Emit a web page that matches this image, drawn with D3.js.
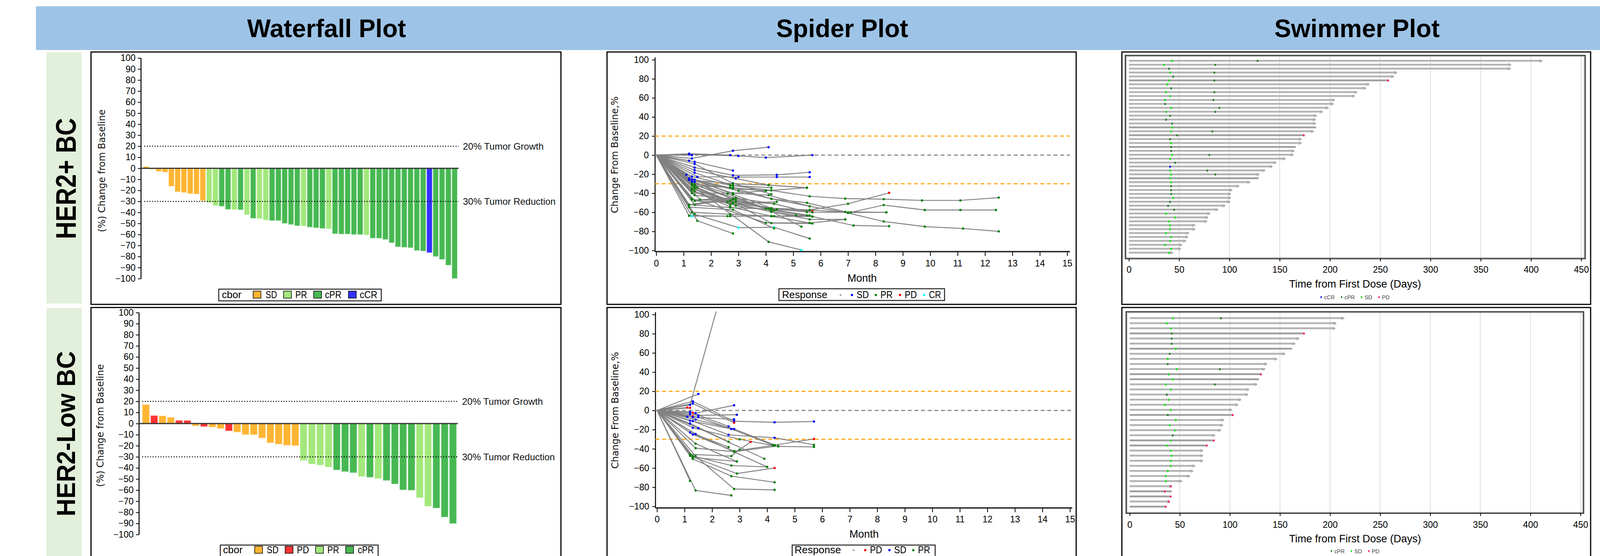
<!DOCTYPE html>
<html><head><meta charset="utf-8">
<script src="https://cdn.jsdelivr.net/npm/d3@7"></script>
<style>body{margin:0;background:#fff}svg{display:block}</style>
</head><body><svg id="c" width="4131" height="1423"></svg>
<script>
// ---------------- DATA ----------------
const panelTitles = ["Waterfall Plot", "Spider Plot", "Swimmer Plot"];
const rowLabels = ["HER2+  BC", "HER2-Low  BC"];
const wfTicks = [100,90,80,70,60,50,40,30,20,10,0,-10,-20,-30,-40,-50,-60,-70,-80,-90,-100];
const spiderYTicks = [100,80,60,40,20,0,-20,-40,-60,-80,-100];
const spiderXTicks = [0,1,2,3,4,5,6,7,8,9,10,11,12,13,14,15];
const swimTicks = [0,50,100,150,200,250,300,350,400,450];
const refLabels = ["20% Tumor Growth", "30% Tumor Reduction"];

// Waterfall HER2+
const wfTopValues = [1.5,-0.8,-2.7,-3.5,-16.2,-21.2,-21.9,-22.9,-23.2,-29.2,-31,-33.8,-34.4,-37.2,-37.5,-37.6,-42.1,-45.3,-45.6,-46.9,-47.4,-47.4,-49.9,-50.9,-52.1,-52.2,-53.3,-53.9,-54.5,-54.8,-59.3,-59.6,-59.6,-60,-60,-60.5,-63.3,-63.4,-64.5,-67.5,-71.2,-71.6,-72,-74.5,-75,-76.4,-79.9,-82.6,-87.8,-99.8];
const wfTopResp = ["SD","SD","SD","SD","SD","SD","SD","SD","SD","SD","PR","PR","cPR","cPR","PR","cPR","PR","cPR","PR","PR","cPR","cPR","cPR","cPR","cPR","PR","cPR","cPR","cPR","PR","cPR","cPR","cPR","cPR","cPR","PR","cPR","cPR","cPR","cPR","cPR","cPR","cPR","cPR","cPR","cCR","cPR","cPR","cPR","cPR"];
const wfTopLegend = ["SD","PR","cPR","cCR"];
// Waterfall HER2-low
const wfLowValues = [17,7.1,6.9,5.5,2.8,2.7,-2.1,-2.7,-3.1,-4.4,-6.6,-7.7,-9.9,-10,-13,-17.3,-18.5,-19.5,-19.9,-33.2,-36.5,-37.4,-39.1,-41.8,-43.3,-44.3,-47.7,-48.4,-49.6,-51.3,-54.4,-59.8,-60.1,-66.8,-74.5,-76.1,-84.2,-90.1];
const wfLowResp = ["SD","PD","SD","SD","PD","PD","SD","PD","SD","SD","PD","SD","SD","SD","SD","SD","SD","SD","SD","PR","PR","PR","PR","cPR","cPR","cPR","PR","cPR","PR","cPR","cPR","cPR","cPR","PR","PR","cPR","cPR","cPR"];
const wfLowLegend = ["SD","PD","PR","cPR"];

// Spider: each patient = list of [month, % change, response] (S=SD, P=PR, D=PD, C=CR)
const spiderTop = [
 [[0,0],[1.3,-3.5,'S'],[2.8,4.6,'S'],[4.1,8.3,'S']],
 [[0,0],[1.2,1.5,'S'],[2.7,0,'S']],
 [[0,0],[1.2,0.8,'S'],[3.0,-0.8,'S'],[4.0,-2.6,'S'],[5.7,0,'S']],
 [[0,0],[1.3,0,'S']],
 [[0,0],[1.2,-5.8,'S']],
 [[0,0],[1.4,-7,'S'],[2.8,-16.2,'S']],
 [[0,0],[1.4,-9.2,'S'],[2.8,-29.6,'S'],[4.2,-41,'P']],
 [[0,0],[1.4,-13,'S'],[2.8,-21.2,'S'],[4.4,-20.7,'S'],[5.6,-18,'S']],
 [[0,0],[1.5,-22.7,'S'],[3.0,-23,'S'],[4.4,-23,'S'],[5.6,-23,'S']],
 [[0,0],[1.4,-15.8,'S'],[2.9,-24.5,'S'],[4.1,-31.5,'P'],[5.5,-34.2,'P']],
 [[0,0],[1.4,-18.5,'S'],[2.8,-32,'P'],[4.2,-37,'P'],[5.6,-43.2,'P'],[6.9,-45.6,'P'],[8.3,-46.2,'P'],[9.7,-47.5,'P'],[11.1,-47.5,'P'],[12.5,-44.6,'P']],
 [[0,0],[1.1,-20.7,'S']],
 [[0,0],[1.3,-22.4,'S'],[2.7,-31.7,'P'],[4.2,-34.2,'P']],
 [[0,0],[1.2,-24.3,'S'],[2.8,-35,'P'],[4.0,-37.4,'P']],
 [[0,0],[1.2,-25.4,'S'],[3.0,-37.4,'P'],[4.2,-45.8,'P'],[5.5,-50,'P'],[6.9,-59.5,'P'],[8.4,-60,'P']],
 [[0,0],[1.3,-25.7,'S'],[2.8,-40,'P'],[4.1,-42,'P'],[5.6,-53.7,'P'],[7.0,-60.7,'P'],[8.3,-69.6,'P'],[9.8,-75,'P'],[11.2,-77,'P'],[12.5,-80,'P']],
 [[0,0],[1.4,-25.7,'S'],[2.8,-41,'P'],[4.2,-55.6,'P'],[5.7,-58.8,'D']],
 [[0,0],[1.3,-28,'S'],[2.6,-40.5,'P'],[4.0,-56,'P'],[5.6,-57.5,'P'],[7.0,-51,'P'],[8.5,-39.6,'D']],
 [[0,0],[1.4,-28,'S'],[2.8,-46.5,'P'],[4.1,-56.3,'P'],[5.7,-60,'P'],[7.1,-60,'P'],[8.3,-52.4,'P'],[9.8,-57.6,'P'],[11.1,-57.6,'P'],[12.4,-57.6,'P']],
 [[0,0],[1.3,-30,'P'],[2.9,-45.4,'P'],[4.2,-57,'P'],[5.6,-63.3,'P']],
 [[0,0],[1.4,-31,'P'],[2.9,-47,'P'],[4.2,-58,'P'],[5.7,-64.4,'P'],[7.2,-73.8,'P'],[8.5,-74.6,'P']],
 [[0,0],[1.3,-32,'P'],[2.6,-49,'P'],[4.2,-59.5,'P'],[5.6,-67.4,'P'],[6.9,-67.4,'P']],
 [[0,0],[1.4,-33,'P'],[2.7,-48,'P'],[4.3,-51,'P'],[5.5,-59.5,'P']],
 [[0,0],[1.5,-34,'P'],[2.8,-50,'P'],[4.2,-56,'P']],
 [[0,0],[1.3,-35,'P'],[2.8,-50.7,'P'],[4.4,-49,'P']],
 [[0,0],[1.4,-35,'P'],[2.9,-53,'P']],
 [[0,0],[1.3,-37,'P'],[2.7,-54.3,'P'],[4.2,-64,'P'],[5.6,-71.2,'P']],
 [[0,0],[1.4,-34,'P'],[4.1,-91,'P'],[5.3,-99.5,'C']],
 [[0,0],[1.5,-68.9,'P'],[2.8,-82.2,'P']],
 [[0,0],[1.3,-64,'C'],[2.7,-64,'P'],[4.3,-64,'P']],
 [[0,0],[1.4,-62,'P'],[3.0,-76,'C'],[4.3,-75.7,'C'],[5.6,-87.5,'P']],
 [[0,0],[1.2,-63.6,'P'],[2.6,-64,'P'],[4.2,-64,'P'],[5.7,-64.4,'P']],
 [[0,0],[1.3,-60,'P'],[2.7,-62,'P'],[4.2,-64,'P'],[5.5,-63.3,'P']],
 [[0,0],[1.2,-54.6,'P'],[2.8,-57.3,'P'],[4.3,-76.8,'P']],
 [[0,0],[1.2,-52,'P'],[2.9,-45,'P'],[4.3,-51,'P'],[5.5,-59.5,'P']],
 [[0,0],[1.4,-52,'P'],[2.8,-46.5,'P']],
 [[0,0],[1.6,-46.7,'P'],[2.9,-45,'P']],
 [[0,0],[1.3,-45.6,'P'],[4.0,-71,'P'],[5.6,-71.2,'P'],[6.9,-67.4,'P']],
 [[0,0],[1.3,-46.7,'P'],[2.7,-48,'P'],[4.2,-71.3,'P'],[5.7,-71.7,'P']],
 [[0,0],[1.4,-48,'P'],[2.8,-50,'P'],[4.2,-59.5,'P'],[5.1,-63.2,'P']],
 [[0,0],[1.4,-42,'P'],[2.8,-46,'P'],[4.0,-56,'P'],[5.3,-75,'P']],
 [[0,0],[1.3,-32,'P'],[2.8,-34,'P'],[4.2,-45.8,'P'],[5.6,-53.7,'P']],
 [[0,0],[1.4,-30.5,'P'],[2.7,-34,'P'],[4.0,-37.4,'P'],[5.5,-34.2,'P']],
 [[0,0],[1.2,-26,'S'],[2.8,-30,'P'],[4.1,-31.5,'P'],[5.5,-34.2,'P']],
 [[0,0],[1.4,-38,'P'],[2.7,-52,'P']],
 [[0,0],[1.4,-38,'P'],[2.9,-53,'P'],[4.3,-58,'P']],
 [[0,0],[1.3,-35,'P'],[2.9,-49,'P'],[4.2,-55.6,'P'],[5.6,-57.5,'P'],[7.0,-60.3,'P'],[8.4,-60,'P']],
 [[0,0],[1.2,-52,'P'],[2.7,-55,'P'],[4.4,-57,'P']],
 [[0,0],[1.3,-40,'P'],[2.8,-40,'P'],[4.0,-37.4,'P']]
];
const spiderTopLegend = ['S','P','D','C'];

const spiderLow = [
 [[0,0],[1.2,5.8,'S'],[2.7,160,'D']],
 [[0,0],[1.5,17.2,'S']],
 [[0,0],[1.3,9.5,'S'],[2.8,-11.2,'S'],[4.27,-12.3,'S'],[5.7,-11.5,'S']],
 [[0,0],[1.3,7.2,'S'],[2.8,-12.8,'D']],
 [[0,0],[1.4,-2.8,'S'],[2.8,5.4,'S']],
 [[0,0],[1.1,3.1,'D']],
 [[0,0],[1.2,2.7,'D']],
 [[0,0],[1.3,-2.3,'D']],
 [[0,0],[1.5,-5.1,'S'],[2.9,-4.5,'S']],
 [[0,0],[1.1,-6.6,'S']],
 [[0,0],[1.3,-6.1,'D']],
 [[0,0],[1.3,-7,'S'],[2.8,-9.3,'S']],
 [[0,0],[1.5,-7,'S'],[2.7,-19.3,'S']],
 [[0,0],[1.4,-9.5,'S'],[2.8,-19.3,'S'],[4.27,-36,'P']],
 [[0,0],[1.2,-1.6,'S'],[2.6,-16.6,'S']],
 [[0,0],[1.2,-3.9,'S']],
 [[0,0],[1.2,-10.7,'S'],[2.7,-19.3,'S'],[4.27,-36.7,'P']],
 [[0,0],[1.3,-11.1,'S'],[2.6,-25.4,'S'],[4.27,-28.5,'S'],[5.7,-35.8,'P']],
 [[0,0],[1.2,-13.6,'S'],[2.6,-32.6,'P']],
 [[0,0],[1.3,-18,'S'],[3.0,-30.1,'P'],[4.4,-37.5,'P'],[5.7,-38,'P']],
 [[0,0],[1.5,-18.4,'S'],[3.9,-50.3,'P']],
 [[0,0],[1.2,-23,'S'],[2.6,-38.2,'P']],
 [[0,0],[1.3,-25,'S'],[2.8,-42.4,'P'],[4.2,-36.4,'P'],[5.7,-29.7,'D']],
 [[0,0],[1.4,-24.5,'S'],[2.8,-43.2,'P'],[4.0,-58.9,'P']],
 [[0,0],[1.4,-34.6,'P'],[2.9,-53.2,'P']],
 [[0,0],[1.4,-39.3,'P'],[2.8,-43,'P'],[4.4,-37,'P']],
 [[0,0],[1.2,-45.7,'P'],[2.7,-47.6,'P'],[3.0,-40.8,'P'],[3.4,-32.8,'D']],
 [[0,0],[1.2,-47.3,'P'],[2.9,-65.8,'P'],[4.27,-60,'D']],
 [[0,0],[1.3,-47.6,'P'],[2.7,-57.4,'P'],[4.0,-58.9,'P']],
 [[0,0],[1.3,-50.5,'P'],[2.7,-68.5,'P'],[4.27,-74.9,'P']],
 [[0,0],[1.4,-47.6,'P'],[2.8,-81.9,'P'],[4.27,-82.8,'P']],
 [[0,0],[1.2,-73.4,'P']],
 [[0,0],[1.4,-83.4,'P'],[2.7,-88.6,'P']],
 [[0,0],[1.3,-49,'P'],[2.9,-53.2,'P']]
];
const spiderLowLegend = ['D','S','P'];

// Swimmer: end day, ongoing arrow (1/0), response events [day, code]
const swimTopEnd = [411,380,379.5,266.5,263.5,258,239,235.6,226.8,224.5,204.6,203.4,198.4,192.6,186.6,185.7,185.7,186.2,183.6,174,171.5,171.5,166,164.4,163.5,155.6,146.4,142.6,135.3,129.6,129,120.4,109.5,102.6,101.3,101.3,100.6,95.6,88.5,80.6,78.5,77.6,65.7,65.7,59.6,58.7,56.5,52.7,51.6,43.7];
const swimTopArrow = [1,1,1,1,1,0,1,1,1,1,1,1,1,1,1,1,1,0,1,0,1,1,0,1,1,1,1,1,1,1,0,1,1,1,1,1,1,1,1,1,1,1,1,1,1,1,1,1,1,1];
const swimTopEvents = [
 [[43,'SD'],[128,'cPR']],[[35,'SD'],[86,'cPR']],[[40,'cPR']],[[41,'SD'],[85,'cPR']],[[44,'cPR']],
 [[40,'SD'],[85,'cPR'],[258,'PD']],[[38,'SD']],[[42,'cPR']],[[37,'SD'],[85,'cPR']],[[41,'SD']],
 [[36,'SD'],[84,'cPR']],[[36,'cPR']],[[42,'SD'],[90,'cPR']],[[37,'SD'],[86,'cPR']],[[41,'cPR']],
 [[37,'cPR']],[[43,'cPR']],[[43,'SD']],[[42,'SD'],[83,'cPR']],[[48,'cPR'],[174,'PD']],
 [[41,'cPR']],[[42,'SD']],[[42,'cPR']],[[42,'cPR']],[[43,'SD'],[80,'cPR']],
 [[41,'SD']],[[46,'cPR']],[[41,'cCR']],[[41,'SD'],[78,'cPR']],[[42,'SD'],[86,'cPR']],
 [[41,'SD']],[[42,'SD']],[[42,'cPR']],[[42,'cPR']],[[42,'cPR']],
 [[44,'SD']],[[41,'cPR']],[[39,'cPR']],[[45,'cPR']],[[37,'SD']],
 [[46,'SD']],[[40,'SD']],[[41,'SD']],[[41,'SD']],[[37,'SD']],
 [[42,'SD']],[[41,'SD']],[[36,'SD']],[[42,'SD']],[[40,'SD']]
];
const swimTopLegend = ["cCR","cPR","SD","PD"];

const swimLowEnd = [214,206,205,174,169,165,162,155,147,137,135,131,129,127,119,118,111,108,102,103,94,93,91,85,84,77,73,73,73,65,63,60,52,42,42,41,40,36];
const swimLowArrow = [1,1,1,0,1,1,0,1,1,1,1,0,0,1,1,1,1,1,1,0,1,1,1,1,0,0,1,1,1,1,1,1,1,1,0,0,1,0];
const swimLowEvents = [
 [[43,'SD'],[91,'cPR']],[[37,'SD']],[[41,'SD']],[[42,'cPR'],[174,'PD']],[[42,'cPR']],
 [[42,'cPR']],[[46,'SD']],[[40,'cPR']],[[38,'SD']],[[38,'cPR']],
 [[47,'SD'],[90,'cPR']],[[39,'SD'],[131,'PD']],[[43,'SD']],[[36,'SD'],[85,'cPR']],[[41,'SD']],
 [[37,'cPR']],[[39,'SD']],[[35,'SD']],[[41,'SD']],[[38,'cPR'],[103,'PD']],
 [[46,'SD']],[[40,'SD']],[[45,'SD']],[[43,'cPR']],[[41,'SD'],[84,'PD']],
 [[37,'SD'],[77,'PD']],[[41,'SD']],[[42,'SD']],[[41,'SD']],[[41,'SD']],
 [[38,'SD']],[[36,'SD']],[[36,'SD']],[[41,'PD']],[[35,'PD']],
 [[41,'PD']],[[39,'PD']],[[36,'PD']]
];
const swimLowLegend = ["cPR","SD","PD"];

// ---------------- STYLE ----------------
const FONT = '"Liberation Sans", Arial, Helvetica, sans-serif';
const WIDE = '"DejaVu Sans", Verdana, sans-serif';
const wfColor = {SD:"#ffb533", PD:"#ff3333", PR:"#a3e87c", cPR:"#47b852", cCR:"#3232ff"};
const wfEdge  = {SD:"#ffd98a", PD:"#ff9a9a", PR:"#d5f7c2", cPR:"#a8e0ae", cCR:"#9999ff"};
const spColor = {S:"#0000ff", P:"#008000", D:"#ff0000", C:"#00ffff"};
const spName  = {S:"SD", P:"PR", D:"PD", C:"CR"};
const swColor = {cCR:"#0000ff", cPR:"#1f7a1f", SD:"#00ee00", PD:"#ff1654"};

const svg = d3.select("#c");

// ---------------- HEADER & FRAMES ----------------
svg.append("rect").attr("x",92).attr("y",16).attr("width",4018).attr("height",112).attr("fill","#9dc3e6");
[836,2156,3474].forEach((cx,i)=>svg.append("text").attr("x",cx).attr("y",95)
  .attr("text-anchor","middle").attr("font-family",FONT).attr("font-weight","bold")
  .attr("font-size",64).attr("fill","#000").text(panelTitles[i]));

const rowsCfg = [{y0:134,y1:777,bx:194,cy:457,len:310,fs:72},{y0:788,y1:1423,bx:192,cy:1110,len:423,fs:67}];
rowsCfg.forEach((r,i)=>{
  svg.append("rect").attr("x",119).attr("y",r.y0).attr("width",90).attr("height",r.y1-r.y0).attr("fill","#e2efda");
  svg.append("text").attr("transform",`translate(${r.bx},${r.cy}) rotate(-90)`)
    .attr("text-anchor","middle").attr("font-family",FONT).attr("font-weight","bold")
    .attr("font-size",r.fs).attr("textLength",r.len).attr("lengthAdjust","spacingAndGlyphs")
    .text(rowLabels[i]);
});

const colX = [[233,1436],[1554,2755],[2872,4072]];
const rowY = [[133,779],[787,1445]];
rowY.forEach(ry=>colX.forEach(cx=>{
  svg.append("rect").attr("x",cx[0]).attr("y",ry[0]).attr("width",cx[1]-cx[0]).attr("height",ry[1]-ry[0])
    .attr("fill","#fff").attr("stroke","#000").attr("stroke-width",3);
}));

function styleAxis(g, fs){
  g.attr("font-family",FONT);
  g.selectAll("text").attr("font-size",fs).attr("fill","#000");
  g.selectAll(".tick line").attr("stroke","#000").attr("stroke-width",2);
  g.select(".domain").remove();
}
function legText(g, x, base, str, fs, w){
  const t = g.append("text").attr("x",x).attr("y",base).attr("font-family",FONT).attr("font-size",fs).attr("fill","#000").text(str);
  if (w) t.attr("textLength",w).attr("lengthAdjust","spacingAndGlyphs");
  return t;
}

// ---------------- WATERFALL ----------------
function waterfall(c){
  const g = svg.append("g");
  const y = d3.scaleLinear([-100,100],[c.ym100,c.y100]);
  const x = d3.scaleBand(d3.range(c.vals.length),[c.bx0,c.bx1]).paddingInner(0.17).paddingOuter(0.03);
  const ag = g.append("g").attr("transform",`translate(${c.axisX},0)`)
    .call(d3.axisLeft(y).tickValues(wfTicks).tickSize(8).tickPadding(6).tickSizeOuter(0));
  styleAxis(ag,23);
  g.append("line").attr("x1",c.axisX).attr("x2",c.axisX).attr("y1",y(100)).attr("y2",y(-100)).attr("stroke","#000").attr("stroke-width",2.5);
  g.selectAll("rect.bar").data(c.vals).join("rect").attr("class","bar")
    .attr("x",(d,i)=>x(i)).attr("width",x.bandwidth())
    .attr("y",d=>y(Math.max(0,d))).attr("height",d=>Math.abs(y(d)-y(0)))
    .attr("fill",(d,i)=>wfColor[c.resp[i]]).attr("stroke",(d,i)=>wfEdge[c.resp[i]]).attr("stroke-width",1);
  [20,-30].forEach((v,k)=>{
    g.append("line").attr("x1",c.axisX+8).attr("x2",c.zx1).attr("y1",y(v)).attr("y2",y(v))
      .attr("stroke","#000").attr("stroke-width",2.5).attr("stroke-dasharray","2.5,4.2");
    g.append("text").attr("x",c.zx1+11).attr("y",y(v)).attr("dy","0.35em").attr("font-family",FONT)
      .attr("font-size",24).attr("fill","#111").text(refLabels[k]);
  });
  g.append("line").attr("x1",c.axisX).attr("x2",c.zx1).attr("y1",y(0)).attr("y2",y(0)).attr("stroke","#333").attr("stroke-width",3);
  g.append("text").attr("transform",`translate(${c.ylx},${c.yly}) rotate(-90)`).attr("dy","0.35em")
    .attr("text-anchor","middle").attr("font-family",WIDE).attr("font-size",24).attr("fill","#111")
    .text("(%) Change from Baseline");
  const L = c.leg;
  g.append("rect").attr("x",L.x0).attr("y",L.y0).attr("width",L.x1-L.x0).attr("height",L.h)
    .attr("fill","#fff").attr("stroke","#222").attr("stroke-width",2.5);
  legText(g, L.titleX, L.base, "cbor", 25, 50);
  c.legItems.forEach((k,i)=>{
    g.append("rect").attr("x",L.sq[i]).attr("y",L.base-18).attr("width",20).attr("height",18)
      .attr("fill",wfColor[k]).attr("stroke","#000").attr("stroke-width",1.5);
    legText(g, L.tx[i], L.base, k, 25, L.tw[i]);
  });
}
waterfall({vals:wfTopValues,resp:wfTopResp,y100:148.5,ym100:713,axisX:361,bx0:367,bx1:1171,zx1:1174,
  ylx:261,yly:437,legItems:wfTopLegend,
  leg:{x0:560,x1:976,y0:740,h:30,base:763,titleX:568,sq:[648,726,803,892],tx:[680,756,832,921],tw:[29,30,42,45]}});
waterfall({vals:wfLowValues,resp:wfLowResp,y100:800,ym100:1368,axisX:356,bx0:364,bx1:1169,zx1:1172,
  ylx:257,yly:1089,legItems:wfLowLegend,
  leg:{x0:564,x1:968,y0:1395,h:32,base:1416,titleX:571,sq:[652,730,808,885],tx:[683,760,838,916],tw:[30,31,30,41]}});

// ---------------- SPIDER ----------------
let clipId = 0;
function spider(c){
  const g = svg.append("g");
  const x = d3.scaleLinear([0,15],[c.x0,c.x15]);
  const y = d3.scaleLinear([-100,100],[c.ym100,c.y100]);
  const id = "clip"+(clipId++);
  svg.append("clipPath").attr("id",id).append("rect").attr("x",c.axisX).attr("y",c.clipTop)
    .attr("width",c.xEnd-c.axisX).attr("height",c.axisY-c.clipTop);
  const ay = g.append("g").attr("transform",`translate(${c.axisX},0)`)
    .call(d3.axisLeft(y).tickValues(spiderYTicks).tickSize(8).tickPadding(8).tickSizeOuter(0));
  styleAxis(ay,23);
  const ax = g.append("g").attr("transform",`translate(0,${c.axisY})`)
    .call(d3.axisBottom(x).tickValues(spiderXTicks).tickSize(11).tickPadding(8).tickSizeOuter(0));
  styleAxis(ax,23);
  ax.selectAll("text").attr("dy",null).attr("y",c.tickY-c.axisY).attr("dominant-baseline","central");
  g.append("line").attr("x1",c.axisX).attr("x2",c.axisX).attr("y1",y(100)-6).attr("y2",c.axisY).attr("stroke","#000").attr("stroke-width",2.5);
  g.append("line").attr("x1",c.axisX).attr("x2",c.xEnd).attr("y1",c.axisY).attr("y2",c.axisY).attr("stroke","#222").attr("stroke-width",3.5);
  [20,-30].forEach(v=>g.append("line").attr("x1",c.axisX).attr("x2",c.xEnd).attr("y1",y(v)).attr("y2",y(v))
     .attr("stroke","#ffaa1a").attr("stroke-width",3).attr("stroke-dasharray","10,7"));
  g.append("line").attr("x1",c.axisX).attr("x2",c.xEnd).attr("y1",y(0)).attr("y2",y(0))
     .attr("stroke","#8c8c8c").attr("stroke-width",3).attr("stroke-dasharray","10,7");
  const pg = g.append("g").attr("clip-path",`url(#${id})`);
  const line = d3.line().x(d=>x(d[0])).y(d=>y(d[1]));
  pg.selectAll("path.sp").data(c.data).join("path").attr("class","sp").attr("d",line)
    .attr("fill","none").attr("stroke","#828282").attr("stroke-width",2.4);
  const pts = c.data.flatMap(p=>p);
  pg.selectAll("circle").data(pts).join("circle").attr("cx",d=>x(d[0])).attr("cy",d=>y(d[1]))
    .attr("r",d=>d[2]?3:2.4).attr("fill",d=>d[2]?spColor[d[2]]:"#999");
  g.append("text").attr("x",c.monthX).attr("y",c.monthY).attr("dy","0.35em").attr("text-anchor","middle")
    .attr("font-family",FONT).attr("font-size",27).text("Month");
  g.append("text").attr("transform",`translate(${c.ylx},${c.yly}) rotate(-90)`).attr("dy","0.35em")
    .attr("text-anchor","middle").attr("font-family",WIDE).attr("font-size",24).attr("fill","#111")
    .text("Change From Baseline,%");
  const L = c.leg;
  g.append("rect").attr("x",L.x0).attr("y",L.y0).attr("width",L.x1-L.x0).attr("height",L.h)
    .attr("fill","#fff").attr("stroke","#222").attr("stroke-width",2.5);
  legText(g, L.titleX, L.base, "Response", 25, L.titleW);
  g.append("circle").attr("cx",L.gray).attr("cy",L.base-8).attr("r",2.6).attr("fill","#aaa");
  c.legItems.forEach((k,i)=>{
    g.append("circle").attr("cx",L.dot[i]).attr("cy",L.base-8).attr("r",3).attr("fill",spColor[k]);
    legText(g, L.dot[i]+12, L.base, spName[k], 25, 31);
  });
}
spider({data:spiderTop,x0:1680,x15:2732,y100:153,ym100:641,axisX:1677,axisY:644,xEnd:2739,clipTop:140,
  tickY:674,monthX:2207,monthY:712,ylx:1574,yly:396,legItems:spiderTopLegend,
  leg:{x0:1994,x1:2418,y0:739,h:30,base:763,titleX:2002,titleW:116,gray:2152,dot:[2181,2242,2304,2366]}});
spider({data:spiderLow,x0:1682,x15:2739,y100:805,ym100:1296,axisX:1678,axisY:1300,xEnd:2745,clipTop:797,
  tickY:1329,monthX:2212,monthY:1367,ylx:1575,yly:1050,legItems:spiderLowLegend,
  leg:{x0:2028,x1:2394,y0:1395,h:32,base:1416,titleX:2034,titleW:119,gray:2185,dot:[2215,2277,2338]}});

// ---------------- SWIMMER ----------------
function swimmer(c){
  const g = svg.append("g");
  const x = d3.scaleLinear([0,450],[c.x0,c.x450]);
  const y = d3.scalePoint(d3.range(c.ends.length),[c.yFirst,c.yLast]);
  g.selectAll("line.grid").data(swimTicks.filter(d=>d>0)).join("line").attr("class","grid")
    .attr("x1",d=>x(d)).attr("x2",d=>x(d)).attr("y1",c.fy0).attr("y2",c.fy1)
    .attr("stroke","#dedede").attr("stroke-width",2);
  g.append("rect").attr("x",c.fx0).attr("y",c.fy0).attr("width",c.fx1-c.fx0).attr("height",c.fy1-c.fy0)
    .attr("fill","none").attr("stroke","#333").attr("stroke-width",3);
  g.append("rect").attr("x",c.fx0+3).attr("y",c.fy0+3).attr("width",c.fx1-c.fx0-6).attr("height",c.fy1-c.fy0-6)
    .attr("fill","none").attr("stroke","#b5b5b5").attr("stroke-width",1.2);
  const ax = g.append("g").attr("transform",`translate(0,${c.fy1})`)
    .call(d3.axisBottom(x).tickValues(swimTicks).tickSize(7).tickPadding(8).tickSizeOuter(0));
  styleAxis(ax,23);
  ax.selectAll("text").attr("dy",null).attr("y",c.tickY-c.fy1).attr("dominant-baseline","central");
  g.append("text").attr("x",c.titleX).attr("y",c.titleY).attr("dy","0.35em").attr("text-anchor","middle")
    .attr("font-family",FONT).attr("font-size",27).text("Time from First Dose (Days)");
  const rows = g.selectAll("g.row").data(c.ends).join("g").attr("class","row")
    .attr("transform",(d,i)=>`translate(0,${y(i)})`);
  rows.append("rect").attr("x",x(0)).attr("y",-2).attr("width",d=>x(d)-x(0)).attr("height",4)
    .attr("fill",(d,i)=>c.arrow[i]?"#b8b8b8":"#a2a2a2");
  rows.append("line").attr("x1",x(0)).attr("x2",d=>x(d)).attr("y1",-2).attr("y2",-2)
    .attr("stroke",(d,i)=>c.arrow[i]?"#989898":"#858585").attr("stroke-width",1);
  rows.filter((d,i)=>c.arrow[i]).append("path")
    .attr("d",d=>`M${x(d)-7},-3.5L${x(d)},0L${x(d)-7},3.5`).attr("fill","none").attr("stroke","#a0a0a0").attr("stroke-width",1.4);
  rows.each(function(d,i){
    d3.select(this).selectAll("rect.ev").data(c.events[i]).join("rect").attr("class","ev")
      .attr("x",e=>x(e[0])-2).attr("y",-2.5).attr("width",4).attr("height",5).attr("fill",e=>swColor[e[1]]);
  });
  const lg = g.append("g");
  let cur = 0;
  c.legItems.forEach(k=>{
    lg.append("rect").attr("x",cur).attr("y",-3).attr("width",3).attr("height",5).attr("fill",swColor[k]);
    cur += 9;
    const tt = lg.append("text").attr("x",cur).attr("y",0).attr("dy","0.35em").attr("font-family",FONT)
      .attr("font-size",14).attr("fill","#444").text(k);
    cur += tt.node().getComputedTextLength() + 16;
  });
  cur -= 16;
  lg.attr("transform",`translate(${c.titleX - cur/2},${c.legY})`);
}
swimmer({ends:swimTopEnd,arrow:swimTopArrow,events:swimTopEvents,x0:2890,x450:4048,yFirst:156,yLast:647,
  fx0:2881,fx1:4058,fy0:142,fy1:662,tickY:690,titleX:3469,titleY:727,legY:761,legItems:swimTopLegend});
swimmer({ends:swimLowEnd,arrow:swimLowArrow,events:swimLowEvents,x0:2892,x450:4046,yFirst:814.6,yLast:1297,
  fx0:2883,fx1:4054,fy0:798,fy1:1313.5,tickY:1343,titleX:3469,titleY:1379,legY:1411,legItems:swimLowLegend});
</script></body></html>
